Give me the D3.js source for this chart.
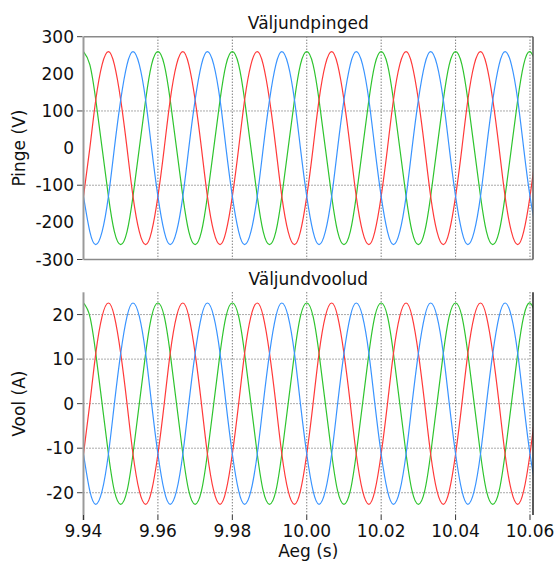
<!DOCTYPE html>
<html>
<head>
<meta charset="utf-8">
<script src="https://cdn.jsdelivr.net/npm/d3@7"></script>
<style>
  html, body { margin: 0; padding: 0; background: #fff; }
  svg { display: block; }
  text { font-family: "DejaVu Sans", Verdana, sans-serif; font-size: 17px; fill: #111; }
</style>
</head>
<body>
<svg id="chart" width="557" height="562"></svg>
<script>
// Sample times (s), one sample every 30 electrical degrees of the 50 Hz supply
const time = [
  9.9400, 9.9417, 9.9433, 9.9450, 9.9467, 9.9483,
  9.9500, 9.9517, 9.9533, 9.9550, 9.9567, 9.9583,
  9.9600, 9.9617, 9.9633, 9.9650, 9.9667, 9.9683,
  9.9700, 9.9717, 9.9733, 9.9750, 9.9767, 9.9783,
  9.9800, 9.9817, 9.9833, 9.9850, 9.9867, 9.9883,
  9.9900, 9.9917, 9.9933, 9.9950, 9.9967, 9.9983,
  10.0000, 10.0017, 10.0033, 10.0050, 10.0067, 10.0083,
  10.0100, 10.0117, 10.0133, 10.0150, 10.0167, 10.0183,
  10.0200, 10.0217, 10.0233, 10.0250, 10.0267, 10.0283,
  10.0300, 10.0317, 10.0333, 10.0350, 10.0367, 10.0383,
  10.0400, 10.0417, 10.0433, 10.0450, 10.0467, 10.0483,
  10.0500, 10.0517, 10.0533, 10.0550, 10.0567, 10.0583,
  10.0600, 10.0617
];

// Inverter output phase voltages (V)
const voltageGreen = [
  260, 225, 130, 0, -130, -225, -260, -225, -130, 0, 130, 225,
  260, 225, 130, 0, -130, -225, -260, -225, -130, 0, 130, 225,
  260, 225, 130, 0, -130, -225, -260, -225, -130, 0, 130, 225,
  260, 225, 130, 0, -130, -225, -260, -225, -130, 0, 130, 225,
  260, 225, 130, 0, -130, -225, -260, -225, -130, 0, 130, 225,
  260, 225, 130, 0, -130, -225, -260, -225, -130, 0, 130, 225,
  260, 225
];
const voltageRed = [
  -130, 0, 130, 225, 260, 225, 130, 0, -130, -225, -260, -225,
  -130, 0, 130, 225, 260, 225, 130, 0, -130, -225, -260, -225,
  -130, 0, 130, 225, 260, 225, 130, 0, -130, -225, -260, -225,
  -130, 0, 130, 225, 260, 225, 130, 0, -130, -225, -260, -225,
  -130, 0, 130, 225, 260, 225, 130, 0, -130, -225, -260, -225,
  -130, 0, 130, 225, 260, 225, 130, 0, -130, -225, -260, -225,
  -130, 0
];
const voltageBlue = [
  -130, -225, -260, -225, -130, 0, 130, 225, 260, 225, 130, 0,
  -130, -225, -260, -225, -130, 0, 130, 225, 260, 225, 130, 0,
  -130, -225, -260, -225, -130, 0, 130, 225, 260, 225, 130, 0,
  -130, -225, -260, -225, -130, 0, 130, 225, 260, 225, 130, 0,
  -130, -225, -260, -225, -130, 0, 130, 225, 260, 225, 130, 0,
  -130, -225, -260, -225, -130, 0, 130, 225, 260, 225, 130, 0,
  -130, -225
];

// Inverter output phase currents (A)
const currentGreen = [
  22.6, 19.6, 11.3, 0, -11.3, -19.6, -22.6, -19.6, -11.3, 0, 11.3, 19.6,
  22.6, 19.6, 11.3, 0, -11.3, -19.6, -22.6, -19.6, -11.3, 0, 11.3, 19.6,
  22.6, 19.6, 11.3, 0, -11.3, -19.6, -22.6, -19.6, -11.3, 0, 11.3, 19.6,
  22.6, 19.6, 11.3, 0, -11.3, -19.6, -22.6, -19.6, -11.3, 0, 11.3, 19.6,
  22.6, 19.6, 11.3, 0, -11.3, -19.6, -22.6, -19.6, -11.3, 0, 11.3, 19.6,
  22.6, 19.6, 11.3, 0, -11.3, -19.6, -22.6, -19.6, -11.3, 0, 11.3, 19.6,
  22.6, 19.6
];
const currentRed = [
  -11.3, 0, 11.3, 19.6, 22.6, 19.6, 11.3, 0, -11.3, -19.6, -22.6, -19.6,
  -11.3, 0, 11.3, 19.6, 22.6, 19.6, 11.3, 0, -11.3, -19.6, -22.6, -19.6,
  -11.3, 0, 11.3, 19.6, 22.6, 19.6, 11.3, 0, -11.3, -19.6, -22.6, -19.6,
  -11.3, 0, 11.3, 19.6, 22.6, 19.6, 11.3, 0, -11.3, -19.6, -22.6, -19.6,
  -11.3, 0, 11.3, 19.6, 22.6, 19.6, 11.3, 0, -11.3, -19.6, -22.6, -19.6,
  -11.3, 0, 11.3, 19.6, 22.6, 19.6, 11.3, 0, -11.3, -19.6, -22.6, -19.6,
  -11.3, 0
];
const currentBlue = [
  -11.3, -19.6, -22.6, -19.6, -11.3, 0, 11.3, 19.6, 22.6, 19.6, 11.3, 0,
  -11.3, -19.6, -22.6, -19.6, -11.3, 0, 11.3, 19.6, 22.6, 19.6, 11.3, 0,
  -11.3, -19.6, -22.6, -19.6, -11.3, 0, 11.3, 19.6, 22.6, 19.6, 11.3, 0,
  -11.3, -19.6, -22.6, -19.6, -11.3, 0, 11.3, 19.6, 22.6, 19.6, 11.3, 0,
  -11.3, -19.6, -22.6, -19.6, -11.3, 0, 11.3, 19.6, 22.6, 19.6, 11.3, 0,
  -11.3, -19.6, -22.6, -19.6, -11.3, 0, 11.3, 19.6, 22.6, 19.6, 11.3, 0,
  -11.3, -19.6
];

// Axis ticks and labels
const xTicks = [9.94, 9.96, 9.98, 10.00, 10.02, 10.04, 10.06];
const xGrid = [9.96, 9.98, 10.00, 10.02, 10.04, 10.06];
const vLabels = [300, 200, 100, 0, -100, -200, -300];
const vTickMarks = [300, 100, -100, -300];
const vGrid = [100, -100];
const iTicks = [20, 10, 0, -10, -20];
const iGrid = [20, 10, 0, -10, -20];

const titles = ["Väljundpinged", "Väljundvoolud"];
const yTitles = ["Pinge (V)", "Vool (A)"];
const xTitle = "Aeg (s)";

const colors = { red: "#ff3a3a", green: "#2fc42f", blue: "#3a94ff" };

const svg = d3.select("#chart");

const xLeft = 83.5, xRight = 533;
const x = d3.scaleLinear().domain([9.94, 10.06]).range([xLeft, 530]);
const yV = d3.scaleLinear().domain([-300, 300]).range([259.5, 36.7]);
const yI = d3.scaleLinear().domain([-25, 25]).range([515, 292.3]);

function drawPanel(id, y, series, yLabels, yMarks, yGridVals, title, yTitle, frame) {
  const g = svg.append("g");
  const [yBot, yTop] = y.range();

  g.append("clipPath").attr("id", id)
    .append("rect")
    .attr("x", xLeft).attr("y", yTop)
    .attr("width", xRight - xLeft).attr("height", yBot - yTop);

  // dotted grid
  g.selectAll(".hg").data(yGridVals).enter().append("line")
    .attr("x1", xLeft).attr("x2", 530)
    .attr("y1", d => y(d)).attr("y2", d => y(d))
    .attr("stroke", "#555").attr("stroke-width", 1)
    .attr("stroke-dasharray", "1,2");
  g.selectAll(".vg").data(xGrid).enter().append("line")
    .attr("x1", d => x(d)).attr("x2", d => x(d))
    .attr("y1", yTop).attr("y2", yBot)
    .attr("stroke", "#444").attr("stroke-width", 1)
    .attr("stroke-dasharray", "1,2");

  // waveforms
  const line = d3.line()
    .x((d, i) => x(time[i]))
    .y(d => y(d))
    .curve(d3.curveNatural);
  const curves = g.append("g").attr("clip-path", `url(#${id})`);
  series.forEach(s => {
    curves.append("path")
      .attr("d", line(s.values))
      .attr("fill", "none")
      .attr("stroke", s.color)
      .attr("stroke-width", 1.2);
  });

  // frame
  if (frame) {
    g.append("line").attr("x1", xLeft).attr("x2", xRight).attr("y1", yTop).attr("y2", yTop)
      .attr("stroke", "#8a8a8a").attr("stroke-width", 1.5);
    g.append("line").attr("x1", xLeft).attr("x2", xRight).attr("y1", yBot).attr("y2", yBot)
      .attr("stroke", "#8a8a8a").attr("stroke-width", 1.5);
    g.append("line").attr("x1", xRight).attr("x2", xRight).attr("y1", yTop).attr("y2", yBot)
      .attr("stroke", "#555").attr("stroke-width", 1.5);
    g.append("line").attr("x1", xLeft).attr("x2", xLeft).attr("y1", yTop).attr("y2", yBot)
      .attr("stroke", "#9a9a9a").attr("stroke-width", 2);
  } else {
    g.append("line").attr("x1", xRight).attr("x2", xRight).attr("y1", yTop).attr("y2", yBot)
      .attr("stroke", "#222").attr("stroke-width", 1.5);
    g.append("line").attr("x1", xLeft).attr("x2", xLeft).attr("y1", yTop).attr("y2", yBot + 5)
      .attr("stroke", "#9a9a9a").attr("stroke-width", 2);
  }

  // y tick marks and labels
  g.selectAll(".yt").data(yMarks).enter().append("line")
    .attr("x1", 77).attr("x2", xLeft - 1)
    .attr("y1", d => y(d)).attr("y2", d => y(d))
    .attr("stroke", "#444").attr("stroke-width", 1);
  g.selectAll(".yl").data(yLabels).enter().append("text")
    .attr("x", 74).attr("y", d => y(d)).attr("dy", "0.36em")
    .attr("text-anchor", "end")
    .text(d => d);

  g.append("text")
    .attr("x", (xLeft + xRight) / 2).attr("y", yTop - 7.5)
    .attr("text-anchor", "middle")
    .text(title);

  g.append("text")
    .attr("transform", `translate(25,${(yTop + yBot) / 2}) rotate(-90)`)
    .attr("text-anchor", "middle")
    .text(yTitle);
}

drawPanel("clipV", yV, [
  { values: voltageGreen, color: colors.green },
  { values: voltageRed, color: colors.red },
  { values: voltageBlue, color: colors.blue }
], vLabels, vTickMarks, vGrid, titles[0], yTitles[0], true);

drawPanel("clipI", yI, [
  { values: currentGreen, color: colors.green },
  { values: currentRed, color: colors.red },
  { values: currentBlue, color: colors.blue }
], iTicks, iTicks, iGrid, titles[1], yTitles[1], false);

// x axis of the lower panel
const xAxisG = svg.append("g");
xAxisG.selectAll(".xt").data(xTicks).enter().append("line")
  .attr("x1", d => x(d)).attr("x2", d => x(d))
  .attr("y1", 515).attr("y2", 520)
  .attr("stroke", "#333").attr("stroke-width", 1);
xAxisG.selectAll(".xl").data(xTicks).enter().append("text")
  .attr("x", d => x(d)).attr("y", 537)
  .attr("text-anchor", "middle")
  .text(d => d.toFixed(2));
xAxisG.append("text")
  .attr("x", (xLeft + xRight) / 2).attr("y", 557)
  .attr("text-anchor", "middle")
  .text(xTitle);
</script>
</body>
</html>
